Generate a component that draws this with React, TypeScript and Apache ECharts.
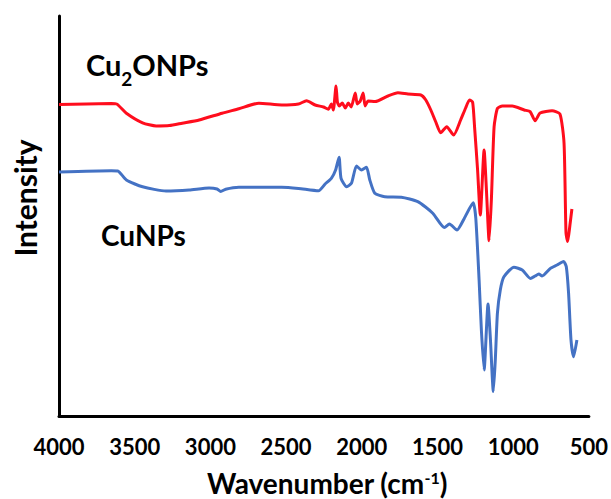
import React, { useEffect, useRef } from "react";
import * as echarts from "echarts";

const xTicks = [4000, 3500, 3000, 2500, 2000, 1500, 1000, 500];

const cu2oWavenumber = [4000, 3654, 3619, 3555, 3448, 3358, 3271, 3186, 3074, 2923, 2812, 2680, 2529, 2418, 2365, 2308, 2253, 2221, 2201, 2188, 2170, 2161, 2148, 2129, 2109, 2089, 2070, 2043, 2030, 2010, 1991, 1978, 1958, 1912, 1827, 1761, 1695, 1610, 1577, 1544, 1511, 1479, 1439, 1393, 1347, 1314, 1288, 1268, 1255, 1235, 1217, 1192, 1176, 1159, 1144, 1126, 1104, 1071, 1006, 927, 888, 855, 822, 743, 691, 664, 651, 640, 625, 612];
const cu2oIntensity = [77.9, 78.1, 78, 75.7, 73.3, 72.5, 72.6, 73.2, 74, 75.7, 76.8, 78.2, 77.75, 78, 78.8, 77.75, 77.25, 76.7, 78, 76.5, 82.5, 78.5, 77.5, 78.25, 77, 78.25, 77.25, 80.75, 78, 78.75, 80.75, 77.5, 78.75, 78.6, 80, 80.8, 80.5, 80.25, 79, 76.5, 73.5, 70.8, 72.3, 70.25, 74, 77, 79, 78.5, 72.3, 61.5, 50.25, 66.5, 56, 43.8, 54, 72.3, 76.9, 77.5, 77.5, 76.5, 76.1, 73.8, 75.75, 76.3, 75.5, 68.25, 45.75, 43.6, 47.75, 51.75];

const cuWavenumber = [4000, 3654, 3612, 3555, 3448, 3293, 3140, 3009, 2956, 2932, 2899, 2812, 2529, 2418, 2286, 2242, 2201, 2173, 2150, 2137, 2100, 2068, 2035, 2002, 1969, 1947, 1914, 1848, 1739, 1630, 1531, 1454, 1421, 1371, 1323, 1264, 1247, 1225, 1210, 1192, 1166, 1150, 1131, 1118, 1104, 1085, 1061, 995, 940, 886, 855, 831, 809, 754, 710, 667, 649, 634, 618, 601, 579];
const cuIntensity = [61, 61.3, 61.25, 59, 57.3, 56.25, 56.5, 57, 56.75, 56.1, 56.7, 57.2, 57.2, 56.9, 56.3, 58, 59.4, 61.5, 64.7, 59.4, 57.3, 58.2, 62.5, 61.5, 62.2, 59, 55.7, 54.8, 54.7, 53.6, 50.7, 47.1, 48, 46.5, 49.4, 53.3, 49.5, 34, 21.5, 11.5, 28, 19, 6.1, 14, 25.7, 31.5, 34.8, 37.2, 36.5, 34.4, 35, 35.5, 35, 36.9, 37.75, 38.6, 37.3, 30.7, 19, 14.8, 19];

const FONT = "Lato, 'Open Sans', sans-serif";

export default function App() {
  const ref = useRef<HTMLDivElement>(null);
  useEffect(() => {
    if (!ref.current) return;
    const chart = echarts.init(ref.current, undefined, { renderer: "svg" });
    const zip = (xs: number[], ys: number[]) => xs.map((x, i) => [x, ys[i]]);
    chart.setOption({
      animation: false,
      backgroundColor: "#ffffff",
      grid: { left: 59, right: 19, top: 16, bottom: 83 },
      xAxis: {
        type: "value",
        inverse: true,
        min: 500,
        max: 4000,
        interval: 500,
        axisLine: { onZero: false, lineStyle: { color: "#000", width: 3 } },
        axisTick: { show: false },
        splitLine: { show: false },
        axisLabel: {
          color: "#000",
          fontFamily: FONT,
          fontWeight: "bold",
          fontSize: 22,
          margin: 19,
          showMinLabel: true,
          showMaxLabel: true,
          formatter: (v: number) => (xTicks.includes(v) ? String(v) : ""),
        },
      },
      yAxis: {
        type: "value",
        min: 0,
        max: 100,
        axisLine: { show: true, lineStyle: { color: "#000", width: 3 } },
        axisTick: { show: false },
        axisLabel: { show: false },
        splitLine: { show: false },
      },
      graphic: [
        {
          type: "text",
          x: 25,
          y: 198,
          rotation: Math.PI / 2,
          style: {
            text: "Intensity",
            font: `bold 30px ${FONT}`,
            fill: "#000",
            align: "center",
            verticalAlign: "middle",
          },
        },
        {
          type: "text",
          x: 86,
          y: 69,
          style: {
            text: "{a|Cu}{s|2}{a|ONPs}",
            align: "left",
            verticalAlign: "middle",
            rich: {
              a: { font: `bold 29px ${FONT}`, fill: "#000", lineHeight: 38, verticalAlign: "top" },
              s: { font: `bold 19px ${FONT}`, fill: "#000", lineHeight: 38, verticalAlign: "bottom" },
            },
          },
        },
        {
          type: "text",
          x: 101,
          y: 235,
          style: {
            text: "CuNPs",
            font: `bold 28px ${FONT}`,
            fill: "#000",
            align: "left",
            verticalAlign: "middle",
          },
        },
        {
          type: "text",
          x: 327,
          y: 483,
          style: {
            text: "{a|Wavenumber (cm}{s|-1}{a|)}",
            align: "center",
            verticalAlign: "middle",
            rich: {
              a: { font: `bold 28px ${FONT}`, fill: "#000", lineHeight: 26 },
              s: { font: `bold 16px ${FONT}`, fill: "#000", lineHeight: 26, padding: [0, 0, 12, 0] },
            },
          },
        },
      ],
      series: [
        {
          name: "Cu2ONPs",
          type: "line",
          data: zip(cu2oWavenumber, cu2oIntensity),
          showSymbol: false,
          lineStyle: { color: "#FF0D1D", width: 3 },
          smooth: 0.2,
        },
        {
          name: "CuNPs",
          type: "line",
          data: zip(cuWavenumber, cuIntensity),
          showSymbol: false,
          lineStyle: { color: "#4472C4", width: 3 },
          smooth: 0.2,
        },
      ],
    });
    return () => chart.dispose();
  }, []);
  return <div ref={ref} style={{ width: 611, height: 499, position: "absolute", left: 0, top: 0 }} />;
}
